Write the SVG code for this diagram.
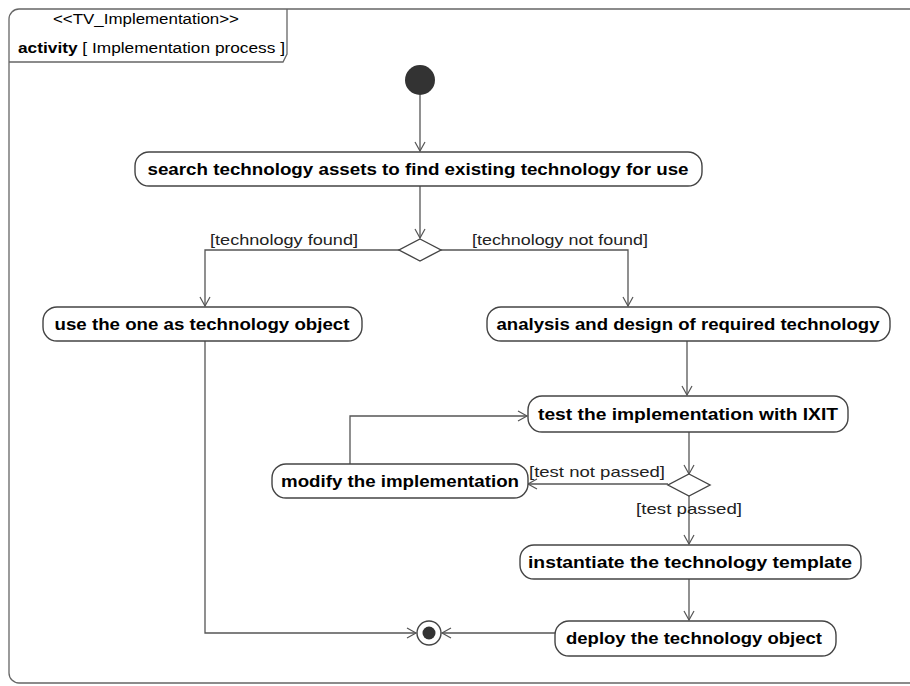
<svg xmlns="http://www.w3.org/2000/svg" width="910" height="686" viewBox="0 0 910 686">
<defs>
<marker id="arr" markerWidth="12" markerHeight="12" refX="10" refY="6" orient="auto" markerUnits="userSpaceOnUse">
<path d="M1,1 L10,6 L1,11" fill="none" stroke="#555" stroke-width="1.2"/>
</marker>
</defs>
<style>
.frame{fill:none;stroke:#666;stroke-width:1.3}
.node{fill:#fff;stroke:#444;stroke-width:1.4}
.lbl{font-family:"Liberation Sans",Arial,sans-serif;font-size:16px;font-weight:bold;fill:#000}
.guard{font-family:"Liberation Sans",Arial,sans-serif;font-size:15px;fill:#222}
.edge{fill:none;stroke:#555;stroke-width:1.3;marker-end:url(#arr)}
.hdr{font-family:"Liberation Sans",Arial,sans-serif;font-size:14px;fill:#000}
</style>
<rect width="910" height="686" fill="#fff"/>
<g id="frame">
<rect class="frame" x="9" y="9" width="1000" height="674" rx="10"/>
<path class="frame" d="M9,62 L283,62 L287,54 L287,9"/>
<text class="hdr" x="146" y="24" text-anchor="middle" textLength="186" lengthAdjust="spacingAndGlyphs">&lt;&lt;TV_Implementation&gt;&gt;</text>
<text class="hdr" x="18" y="53" textLength="267" lengthAdjust="spacingAndGlyphs"><tspan font-weight="bold">activity</tspan> [ Implementation process ]</text>
</g>
<g id="connectors">
<path class="edge" d="M420,95 L420,151"/>
<path class="edge" d="M420,186 L420,238"/>
<path class="edge" d="M399,250 L205,250 L205,306"/>
<path class="edge" d="M441,250 L628,250 L628,306"/>
<path class="edge" d="M687,341 L687,395"/>
<path class="edge" d="M689,432 L689,474"/>
<path class="edge" d="M668,484 L528,484"/>
<path class="edge" d="M350,464 L350,416 L527,416"/>
<path class="edge" d="M689,496 L689,544"/>
<path class="edge" d="M689,579 L689,620"/>
<path class="edge" d="M555,633 L442,633"/>
<path class="edge" d="M205,341 L205,633 L416,633"/>
<text class="guard" x="210" y="245" textLength="148" lengthAdjust="spacingAndGlyphs">[technology found]</text>
<text class="guard" x="472" y="245" textLength="176" lengthAdjust="spacingAndGlyphs">[technology not found]</text>
<text class="guard" x="529" y="477" textLength="136" lengthAdjust="spacingAndGlyphs">[test not passed]</text>
<text class="guard" x="636" y="514" textLength="106" lengthAdjust="spacingAndGlyphs">[test passed]</text>
</g>
<g id="initial">
<circle cx="420" cy="80" r="15" fill="#333"/>
</g>
<g id="search">
<rect class="node" x="135" y="152" width="567" height="34" rx="14"/>
<text class="lbl" x="418" y="175" text-anchor="middle" textLength="541" lengthAdjust="spacingAndGlyphs">search technology assets to find existing technology for use</text>
</g>
<g id="decision1">
<path class="node" d="M420,239 L441,250 L420,261 L399,250 Z"/>
</g>
<g id="use">
<rect class="node" x="43" y="307" width="319" height="34" rx="14"/>
<text class="lbl" x="202" y="330" text-anchor="middle" textLength="295" lengthAdjust="spacingAndGlyphs">use the one as technology object</text>
</g>
<g id="analysis">
<rect class="node" x="487" y="307" width="403" height="34" rx="14"/>
<text class="lbl" x="688" y="330" text-anchor="middle" textLength="383" lengthAdjust="spacingAndGlyphs">analysis and design of required technology</text>
</g>
<g id="test">
<rect class="node" x="528" y="396" width="320" height="36" rx="14"/>
<text class="lbl" x="688" y="420" text-anchor="middle" textLength="300" lengthAdjust="spacingAndGlyphs">test the implementation with IXIT</text>
</g>
<g id="modify">
<rect class="node" x="272" y="464" width="256" height="34" rx="14"/>
<text class="lbl" x="400" y="487" text-anchor="middle" textLength="238" lengthAdjust="spacingAndGlyphs">modify the implementation</text>
</g>
<g id="decision2">
<path class="node" d="M689,474 L710,485 L689,496 L668,485 Z"/>
</g>
<g id="instantiate">
<rect class="node" x="520" y="545" width="341" height="34" rx="14"/>
<text class="lbl" x="690" y="568" text-anchor="middle" textLength="324" lengthAdjust="spacingAndGlyphs">instantiate the technology template</text>
</g>
<g id="deploy">
<rect class="node" x="555" y="621" width="281" height="35" rx="14"/>
<text class="lbl" x="694" y="644" text-anchor="middle" textLength="256" lengthAdjust="spacingAndGlyphs">deploy the technology object</text>
</g>
<g id="final">
<circle cx="429" cy="633" r="12" fill="#fff" stroke="#444" stroke-width="1.4"/>
<circle cx="429" cy="633" r="6.5" fill="#333"/>
</g>
</svg>
